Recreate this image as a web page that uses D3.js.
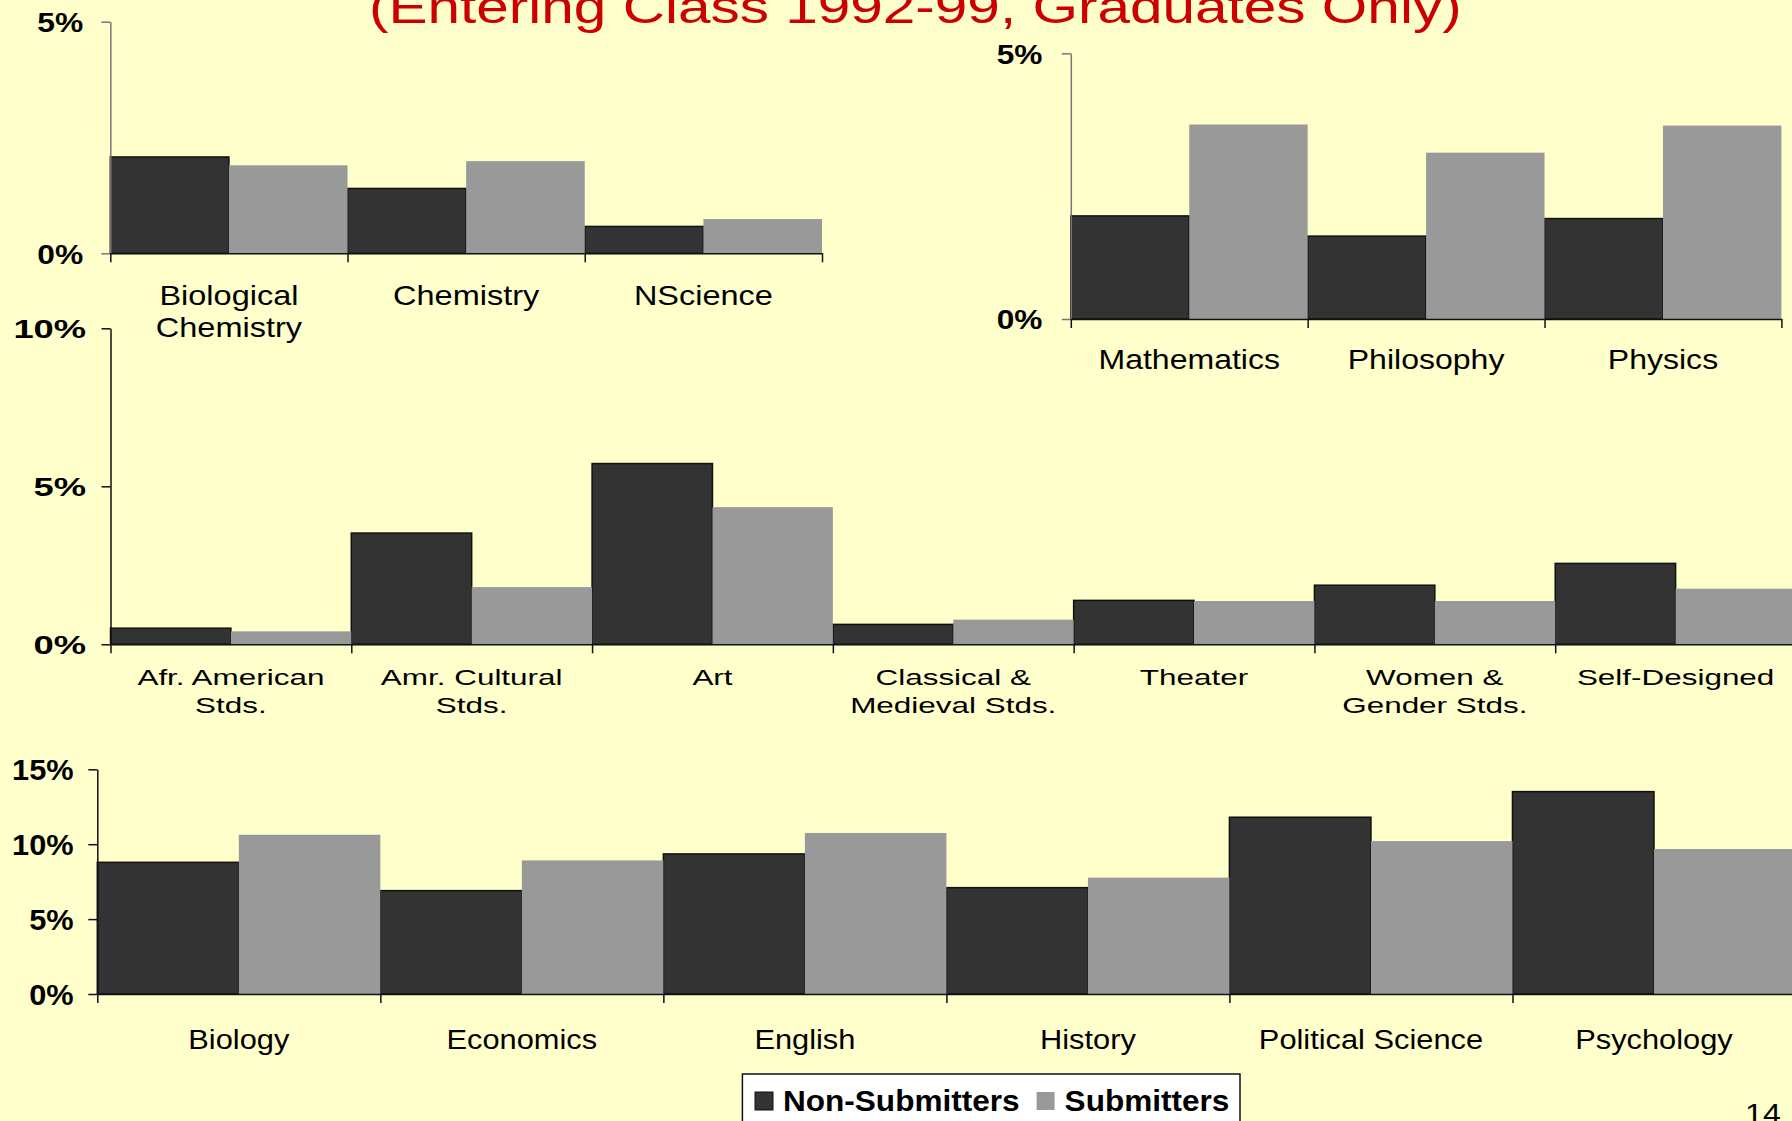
<!DOCTYPE html>
<html>
<head>
<meta charset="utf-8">
<script src="https://cdn.jsdelivr.net/npm/d3@7"></script>
<style>
  html, body { margin: 0; padding: 0; background: #FFFFCC; overflow: hidden; }
  svg { display: block; }
  text { font-family: "Liberation Sans", Arial, Helvetica, sans-serif; }
</style>
</head>
<body>
<svg id="chart" width="1792" height="1121"></svg>
<script>
// ---------------- DATA ----------------
const seriesNames = ["Non-Submitters", "Submitters"];
const titleText = "(Entering Class 1992-99, Graduates Only)";
const pageNumber = "14";

// Panel 1 (top-left)
const cats1 = ["Biological\nChemistry", "Chemistry", "NScience"];
const nonSub1 = [2.08, 1.40, 0.58];
const sub1 = [1.90, 1.99, 0.74];
const ticks1 = [0, 5];

// Panel 2 (top-right)
const cats2 = ["Mathematics", "Philosophy", "Physics"];
const nonSub2 = [1.94, 1.56, 1.89];
const sub2 = [3.66, 3.13, 3.64];
const ticks2 = [0, 5];

// Panel 3 (middle)
const cats3 = ["Afr. American\nStds.", "Amr. Cultural\nStds.", "Art", "Classical &\nMedieval Stds.",
               "Theater", "Women &\nGender Stds.", "Self-Designed"];
const nonSub3 = [0.51, 3.52, 5.72, 0.63, 1.39, 1.87, 2.56];
const sub3 = [0.41, 1.81, 4.34, 0.78, 1.37, 1.37, 1.76];
const ticks3 = [0, 5, 10];

// Panel 4 (bottom)
const cats4 = ["Biology", "Economics", "English", "History", "Political Science", "Psychology"];
const nonSub4 = [8.79, 6.90, 9.35, 7.10, 11.80, 13.51];
const sub4 = [10.63, 8.92, 10.75, 7.77, 10.21, 9.68];
const ticks4 = [0, 5, 10, 15];

// ---------------- STYLE / LAYOUT ----------------
const colors = ["#333333", "#999999"];
const svg = d3.select("#chart");

svg.append("rect").attr("width", 1792).attr("height", 1121).attr("fill", "#FFFFCC");

const layouts = [
  { x0: 110.3, x1: 822, yTop: 21.7, yBase: 253.3, max: 5, yAxisColor: "#777",
    tickFont: 28, tickSx: 1.135, tickGap: 27,
    labFont: 28, labSx: 1.16, labOff: 51.7, labLine: 31.7 },
  { x0: 1070.8, x1: 1781.4, yTop: 53.3, yBase: 319, max: 5, yAxisColor: "#777",
    tickFont: 27.5, tickSx: 1.15, tickGap: 28.4,
    labFont: 27.5, labSx: 1.165, labOff: 50.3, labLine: 31.7 },
  { x0: 110.5, x1: 1796, yTop: 328.3, yBase: 644.3, max: 10, yAxisColor: "#111",
    tickFont: 25.6, tickSx: 1.42, tickGap: 24.4,
    labFont: 22, labSx: 1.43, labOff: 40.7, labLine: 28.3 },
  { x0: 97.3, x1: 1795.5, yTop: 769.3, yBase: 994, max: 15, yAxisColor: "#111",
    tickFont: 29, tickSx: 1.06, tickGap: 23.7,
    labFont: 28, labSx: 1.1, labOff: 55, labLine: 32 }
];

function drawPanel(cfg, cats, s1, s2, ticks) {
  const g = svg.append("g");
  const n = cats.length;
  const x = d3.scaleLinear().domain([0, n]).range([cfg.x0, cfg.x1]);
  const y = d3.scaleLinear().domain([0, cfg.max]).range([cfg.yBase, cfg.yTop]);
  const half = (x(1) - x(0)) / 2;

  [s1, s2].forEach((vals, si) => {
    g.append("g").selectAll("rect").data(vals).join("rect")
      .attr("x", (d, i) => x(i) + si * half)
      .attr("width", half)
      .attr("y", d => y(d))
      .attr("height", d => y(0) - y(d))
      .attr("fill", colors[si])
      .attr("stroke", si === 0 ? "#111" : "none")
      .attr("stroke-width", 1.5);
  });

  // y axis
  const ya = g.append("g")
    .attr("transform", `translate(${cfg.x0},0)`)
    .call(d3.axisLeft(y).tickValues(ticks).tickSize(9).tickSizeOuter(0).tickFormat(d => d + "%"));
  ya.select(".domain").attr("stroke", cfg.yAxisColor).attr("stroke-width", 1.5);
  ya.selectAll(".tick line").attr("stroke", cfg.yAxisColor).attr("stroke-width", 1.5);
  ya.selectAll(".tick text")
    .attr("x", 0).attr("dy", "0.36em")
    .attr("text-anchor", "end")
    .attr("transform", `translate(${-cfg.tickGap},0) scale(${cfg.tickSx},1)`)
    .attr("fill", "#000")
    .style("font-family", '"Liberation Sans", Arial, sans-serif')
    .style("font-weight", "bold")
    .style("font-size", cfg.tickFont + "px");

  // x axis (ticks at category boundaries)
  const xa = g.append("g")
    .attr("transform", `translate(0,${cfg.yBase})`)
    .call(d3.axisBottom(x).tickValues(d3.range(n + 1)).tickSize(9).tickSizeOuter(0).tickFormat(""));
  xa.select(".domain").attr("stroke", "#111").attr("stroke-width", 1.5);
  xa.selectAll(".tick line").attr("stroke", "#111").attr("stroke-width", 1.5);

  // category labels
  const lab = g.append("g").selectAll("text").data(cats).join("text")
    .attr("transform", (d, i) => `translate(${x(i + 0.5)},${cfg.yBase + cfg.labOff}) scale(${cfg.labSx},1)`)
    .attr("text-anchor", "middle")
    .attr("fill", "#000")
    .style("font-size", cfg.labFont + "px");
  lab.selectAll("tspan").data(d => d.split("\n")).join("tspan")
    .attr("x", 0)
    .attr("dy", (d, j) => j === 0 ? 0 : cfg.labLine)
    .text(d => d);
}

drawPanel(layouts[0], cats1, nonSub1, sub1, ticks1);
drawPanel(layouts[1], cats2, nonSub2, sub2, ticks2);
drawPanel(layouts[2], cats3, nonSub3, sub3, ticks3);
drawPanel(layouts[3], cats4, nonSub4, sub4, ticks4);

// Title (partly cut off at the top)
svg.append("text")
  .attr("transform", "translate(369,22.7) scale(1.245,1)")
  .attr("fill", "#CC0000")
  .style("font-size", "47px")
  .text(titleText);

// Legend
const legend = svg.append("g");
legend.append("rect")
  .attr("x", 742.4).attr("y", 1074).attr("width", 497.6).attr("height", 70)
  .attr("fill", "#FFFFFF").attr("stroke", "#111").attr("stroke-width", 1.5);
let lx = 755;
const legSx = 1.07;
seriesNames.forEach((name, i) => {
  legend.append("rect")
    .attr("x", lx).attr("y", 1092).attr("width", 18).attr("height", 18)
    .attr("fill", colors[i])
    .attr("stroke", i === 0 ? "#111" : "none");
  const t = legend.append("text")
    .attr("transform", `translate(${lx + 28},1111) scale(${legSx},1)`)
    .attr("fill", "#000")
    .style("font-weight", "bold")
    .style("font-size", "29.5px")
    .text(name);
  lx = lx + 28 + t.node().getComputedTextLength() * legSx + 17;
});

// Page number
svg.append("text")
  .attr("transform", "translate(1745,1122.7) scale(1.15,1)")
  .attr("fill", "#000")
  .style("font-size", "28px")
  .text(pageNumber);
</script>
</body>
</html>
